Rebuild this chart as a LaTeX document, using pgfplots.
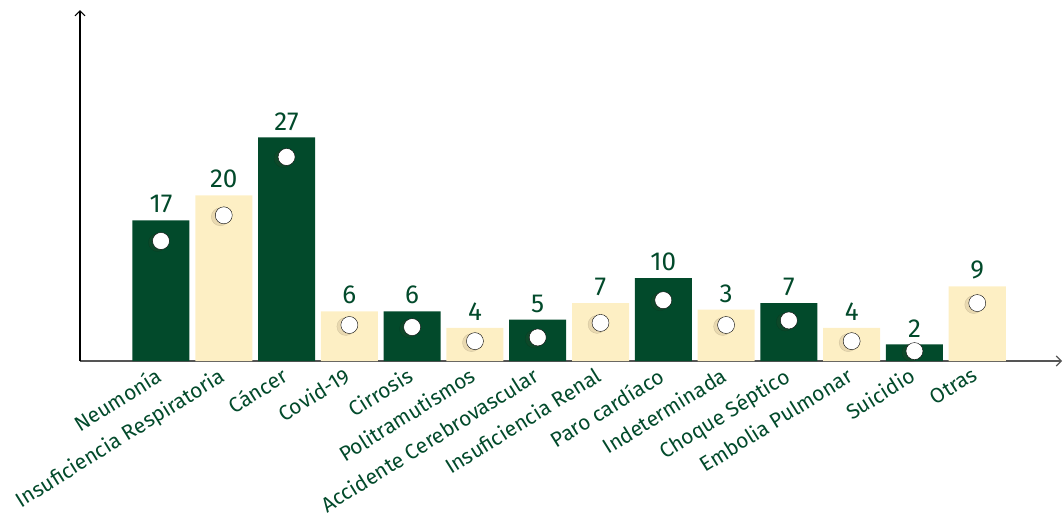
\documentclass[border=0pt]{standalone}
\usepackage{fontspec}
\setmainfont{Fira Sans}
\usepackage{pgfplots}
\pgfplotsset{compat=1.18}
\usepackage{pgfplotstable}
\usetikzlibrary{arrows.meta}
\definecolor{deepGreen}{HTML}{024A2B}
\definecolor{paleCream}{HTML}{FDEFC4}
\definecolor{axisGray}{HTML}{555555}

% x, bar height, printed label, white dot height
\pgfplotstableread{
x  y   lab  dot
0  17  17   14.5
2  27  27   24.65
4  6   6    4.1
6  5   5    2.85
8  10  10   7.35
10 7   7    4.9
12 2   2    1.2
}\darkbars
\pgfplotstableread{
x  y   lab  dot
1  20  20   17.6
3  6   6    4.35
5  4   4    2.4
7  7   7    4.6
9  6.2 3    4.35
11 4   4    2.4
13 9   9    7.0
}\lightbars

\begin{document}
\begin{tikzpicture}
  \useasboundingbox (-80pt,-153pt) rectangle (984pt,361pt);
  \begin{axis}[
    at={(0,0)}, anchor=south west,
    scale only axis,
    width=982pt, height=351pt,
    xmin=-1.29, xmax=14.35,
    ymin=0, ymax=42.4,
    axis x line=bottom, axis y line=left,
    x axis line style={axisGray, line width=1.1pt, -{Straight Barb[length=5pt,width=10pt]}},
    y axis line style={black, line width=1.1pt, -{Straight Barb[length=5pt,width=10pt]}},
    ytick=\empty,
    xtick={0,...,13},
    major tick length=0pt,
    xticklabels={Neumonía, Insuficiencia Respiratoria, Cáncer, Covid-19, Cirrosis,
      Politramutismos, Accidente Cerebrovascular, Insuficiencia Renal, Paro cardíaco,
      Indeterminada, Choque Séptico, Embolia Pulmonar, Suicidio, Otras},
    xticklabel style={rotate=32, anchor=north east, inner sep=0pt, yshift=-1pt,
      xshift=-8pt, font=\fontsize{21pt}{24pt}\selectfont, text=deepGreen},
    clip=false,
  ]
    \addplot[ybar, bar width=57pt, bar shift=0pt, fill=deepGreen, draw=none,
      nodes near coords, point meta=explicit symbolic,
      every node near coord/.append style={anchor=south, inner sep=0pt, yshift=7pt,
        font=\fontsize{26pt}{29pt}\selectfont, text=deepGreen}]
      table[x=x, y=y, meta=lab] {\darkbars};
    \addplot[ybar, bar width=57pt, bar shift=0pt, fill=paleCream, draw=none,
      nodes near coords, point meta=explicit symbolic,
      every node near coord/.append style={anchor=south, inner sep=0pt, yshift=7pt,
        font=\fontsize{26pt}{29pt}\selectfont, text=deepGreen}]
      table[x=x, y=y, meta=lab] {\lightbars};
    % soft shadows under the white dots
    \addplot[only marks, mark=*, mark size=9pt,
      mark options={draw=none, fill=black!50!brown, opacity=0.12, xshift=-3.5pt, yshift=-1.5pt}]
      table[x=x, y=dot] {\darkbars};
    \addplot[only marks, mark=*, mark size=9pt,
      mark options={draw=none, fill=black!50!brown, opacity=0.12, xshift=-3.5pt, yshift=-1.5pt}]
      table[x=x, y=dot] {\lightbars};
    \addplot[only marks, mark=*, mark size=8.5pt,
      mark options={draw=none, fill=white}]
      table[x=x, y=dot] {\darkbars};
    \addplot[only marks, mark=*, mark size=8.5pt,
      mark options={draw=none, fill=white}]
      table[x=x, y=dot] {\lightbars};
  \end{axis}
\end{tikzpicture}
\end{document}
